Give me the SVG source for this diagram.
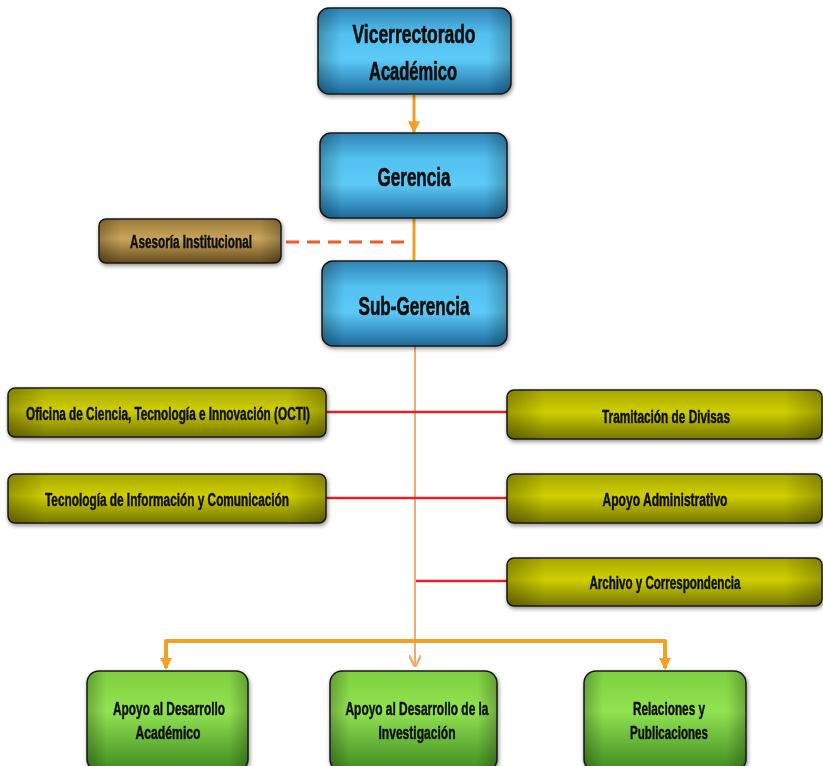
<svg xmlns="http://www.w3.org/2000/svg" width="823" height="766" viewBox="0 0 823 766">
<style>
.t{font-family:"Liberation Sans Narrow","Liberation Sans",Arial,sans-serif;font-weight:bold;fill:#111;stroke:#111;stroke-width:0.5;text-anchor:middle}
.s{font-size:17.5px}
.b{font-size:26px;stroke-width:0.7}
.box{stroke:#1a1a1a;stroke-width:1.5}
.red{stroke:#e02222;stroke-width:2.5;fill:none}
.or{stroke:#f4a024;fill:none}
.pe{stroke:#f6a870;fill:none}
</style>
<defs>
<linearGradient id="gBlue" x1="0" y1="0" x2="0" y2="1">
<stop offset="0" stop-color="#2f84b6"/><stop offset="0.3" stop-color="#52c0ef"/><stop offset="0.6" stop-color="#5ccbf8"/><stop offset="1" stop-color="#1d6a9a"/>
</linearGradient>
<linearGradient id="gYel" x1="0" y1="0" x2="0" y2="1">
<stop offset="0" stop-color="#a8a800"/><stop offset="0.45" stop-color="#cfcf00"/><stop offset="1" stop-color="#767600"/>
</linearGradient>
<linearGradient id="gBrn" x1="0" y1="0" x2="0" y2="1">
<stop offset="0" stop-color="#9c7a38"/><stop offset="0.45" stop-color="#c9a55c"/><stop offset="1" stop-color="#654a1c"/>
</linearGradient>
<linearGradient id="gGrn" x1="0" y1="0" x2="0" y2="1">
<stop offset="0" stop-color="#7fcf3e"/><stop offset="0.4" stop-color="#92e352"/><stop offset="1" stop-color="#3f8a20"/>
</linearGradient>
<linearGradient id="gEdge" x1="0" y1="0" x2="1" y2="0">
<stop offset="0" stop-color="#000" stop-opacity="0.25"/><stop offset="0.12" stop-color="#000" stop-opacity="0"/><stop offset="0.88" stop-color="#000" stop-opacity="0"/><stop offset="1" stop-color="#000" stop-opacity="0.25"/>
</linearGradient>
<filter id="sh" x="-10%" y="-20%" width="120%" height="150%">
<feGaussianBlur in="SourceAlpha" stdDeviation="2"/><feOffset dx="1" dy="2"/><feComponentTransfer><feFuncA type="linear" slope="0.45"/></feComponentTransfer>
<feMerge><feMergeNode/><feMergeNode in="SourceGraphic"/></feMerge>
</filter>
<marker id="aO" viewBox="0 0 10 10" refX="9" refY="5" markerWidth="4" markerHeight="4" orient="auto" markerUnits="strokeWidth"><path d="M0,0 L10,5 L0,10 z" fill="#f4a024"/></marker>
<marker id="aP" viewBox="0 0 10 10" refX="9" refY="5" markerWidth="6" markerHeight="6" orient="auto" markerUnits="strokeWidth"><path d="M0,0 L10,5 L0,10" fill="none" stroke="#f6a870" stroke-width="2"/></marker>
</defs>
<rect width="823" height="766" fill="#fff"/>
<g id="connectors">
<line class="or" x1="414" y1="95" x2="414" y2="132" stroke-width="3" marker-end="url(#aO)"/>
<line class="or" x1="414" y1="218" x2="414" y2="260" stroke-width="3"/>
<line x1="286" y1="242" x2="411" y2="242" stroke="#f05a28" stroke-width="3" stroke-dasharray="13 8"/>
<line class="pe" x1="415" y1="346" x2="415" y2="666" stroke-width="2" marker-end="url(#aP)"/>
<line class="red" x1="326" y1="412" x2="415" y2="412"/>
<line class="red" x1="415" y1="412" x2="507" y2="412"/>
<line class="red" x1="326" y1="498" x2="415" y2="498"/>
<line class="red" x1="415" y1="498" x2="507" y2="498"/>
<line class="red" x1="416" y1="581" x2="507" y2="581"/>
<polyline class="or" points="166,668 166,641 665,641 665,668" stroke-width="4" stroke-linejoin="round" fill="none"/>
<path d="M160,658 L166,670 L172,658 z" fill="#f4a024"/>
<path d="M659,658 L665,670 L671,658 z" fill="#f4a024"/>
</g>
<g id="vicerrectorado" filter="url(#sh)">
<rect class="box" x="318" y="8" width="193" height="86" rx="11" fill="url(#gBlue)"/>
<rect x="318" y="8" width="193" height="86" rx="11" fill="url(#gEdge)"/>
<text class="t b" x="414" y="43" textLength="123" lengthAdjust="spacingAndGlyphs">Vicerrectorado</text>
<text class="t b" x="413" y="80" textLength="88" lengthAdjust="spacingAndGlyphs">Académico</text>
</g>
<g id="gerencia" filter="url(#sh)">
<rect class="box" x="320" y="133" width="187" height="85" rx="11" fill="url(#gBlue)"/>
<rect x="320" y="133" width="187" height="85" rx="11" fill="url(#gEdge)"/>
<text class="t b" x="414" y="186" textLength="73" lengthAdjust="spacingAndGlyphs">Gerencia</text>
</g>
<g id="asesoria" filter="url(#sh)">
<rect class="box" x="99" y="219" width="182" height="44" rx="7" fill="url(#gBrn)"/>
<rect x="99" y="219" width="182" height="44" rx="7" fill="url(#gEdge)"/>
<text class="t s" x="191" y="248" textLength="122" lengthAdjust="spacingAndGlyphs">Asesoría Institucional</text>
</g>
<g id="subgerencia" filter="url(#sh)">
<rect class="box" x="322" y="261" width="185" height="85" rx="11" fill="url(#gBlue)"/>
<rect x="322" y="261" width="185" height="85" rx="11" fill="url(#gEdge)"/>
<text class="t b" x="414" y="315" textLength="111" lengthAdjust="spacingAndGlyphs">Sub-Gerencia</text>
</g>
<g id="octi" filter="url(#sh)">
<rect class="box" x="8" y="388" width="318" height="49" rx="7" fill="url(#gYel)"/>
<rect x="8" y="388" width="318" height="49" rx="7" fill="url(#gEdge)"/>
<text class="t s" x="168" y="420" textLength="284" lengthAdjust="spacingAndGlyphs">Oficina de Ciencia, Tecnología e Innovación (OCTI)</text>
</g>
<g id="tic" filter="url(#sh)">
<rect class="box" x="8" y="474" width="318" height="49" rx="7" fill="url(#gYel)"/>
<rect x="8" y="474" width="318" height="49" rx="7" fill="url(#gEdge)"/>
<text class="t s" x="167" y="506" textLength="244" lengthAdjust="spacingAndGlyphs">Tecnología de Información y Comunicación</text>
</g>
<g id="tramitacion" filter="url(#sh)">
<rect class="box" x="507" y="390" width="315" height="49" rx="7" fill="url(#gYel)"/>
<rect x="507" y="390" width="315" height="49" rx="7" fill="url(#gEdge)"/>
<text class="t s" x="666" y="423" textLength="128" lengthAdjust="spacingAndGlyphs">Tramitación de Divisas</text>
</g>
<g id="apoyo-administrativo" filter="url(#sh)">
<rect class="box" x="507" y="474" width="315" height="49" rx="7" fill="url(#gYel)"/>
<rect x="507" y="474" width="315" height="49" rx="7" fill="url(#gEdge)"/>
<text class="t s" x="665" y="506" textLength="125" lengthAdjust="spacingAndGlyphs">Apoyo Administrativo</text>
</g>
<g id="archivo" filter="url(#sh)">
<rect class="box" x="507" y="558" width="315" height="48" rx="7" fill="url(#gYel)"/>
<rect x="507" y="558" width="315" height="48" rx="7" fill="url(#gEdge)"/>
<text class="t s" x="665" y="589" textLength="151" lengthAdjust="spacingAndGlyphs">Archivo y Correspondencia</text>
</g>
<g id="apoyo-academico" filter="url(#sh)">
<rect class="box" x="87" y="671" width="161" height="100" rx="12" fill="url(#gGrn)"/>
<rect x="87" y="671" width="161" height="100" rx="12" fill="url(#gEdge)"/>
<text class="t s" x="169" y="715" textLength="112" lengthAdjust="spacingAndGlyphs">Apoyo al Desarrollo</text>
<text class="t s" x="168" y="739" textLength="65" lengthAdjust="spacingAndGlyphs">Académico</text>
</g>
<g id="apoyo-investigacion" filter="url(#sh)">
<rect class="box" x="330" y="671" width="167" height="100" rx="12" fill="url(#gGrn)"/>
<rect x="330" y="671" width="167" height="100" rx="12" fill="url(#gEdge)"/>
<text class="t s" x="417" y="715" textLength="143" lengthAdjust="spacingAndGlyphs">Apoyo al Desarrollo de la</text>
<text class="t s" x="417" y="739" textLength="77" lengthAdjust="spacingAndGlyphs">Investigación</text>
</g>
<g id="relaciones" filter="url(#sh)">
<rect class="box" x="584" y="671" width="162" height="100" rx="12" fill="url(#gGrn)"/>
<rect x="584" y="671" width="162" height="100" rx="12" fill="url(#gEdge)"/>
<text class="t s" x="669" y="715" textLength="72" lengthAdjust="spacingAndGlyphs">Relaciones y</text>
<text class="t s" x="669" y="739" textLength="78" lengthAdjust="spacingAndGlyphs">Publicaciones</text>
</g>
</svg>
